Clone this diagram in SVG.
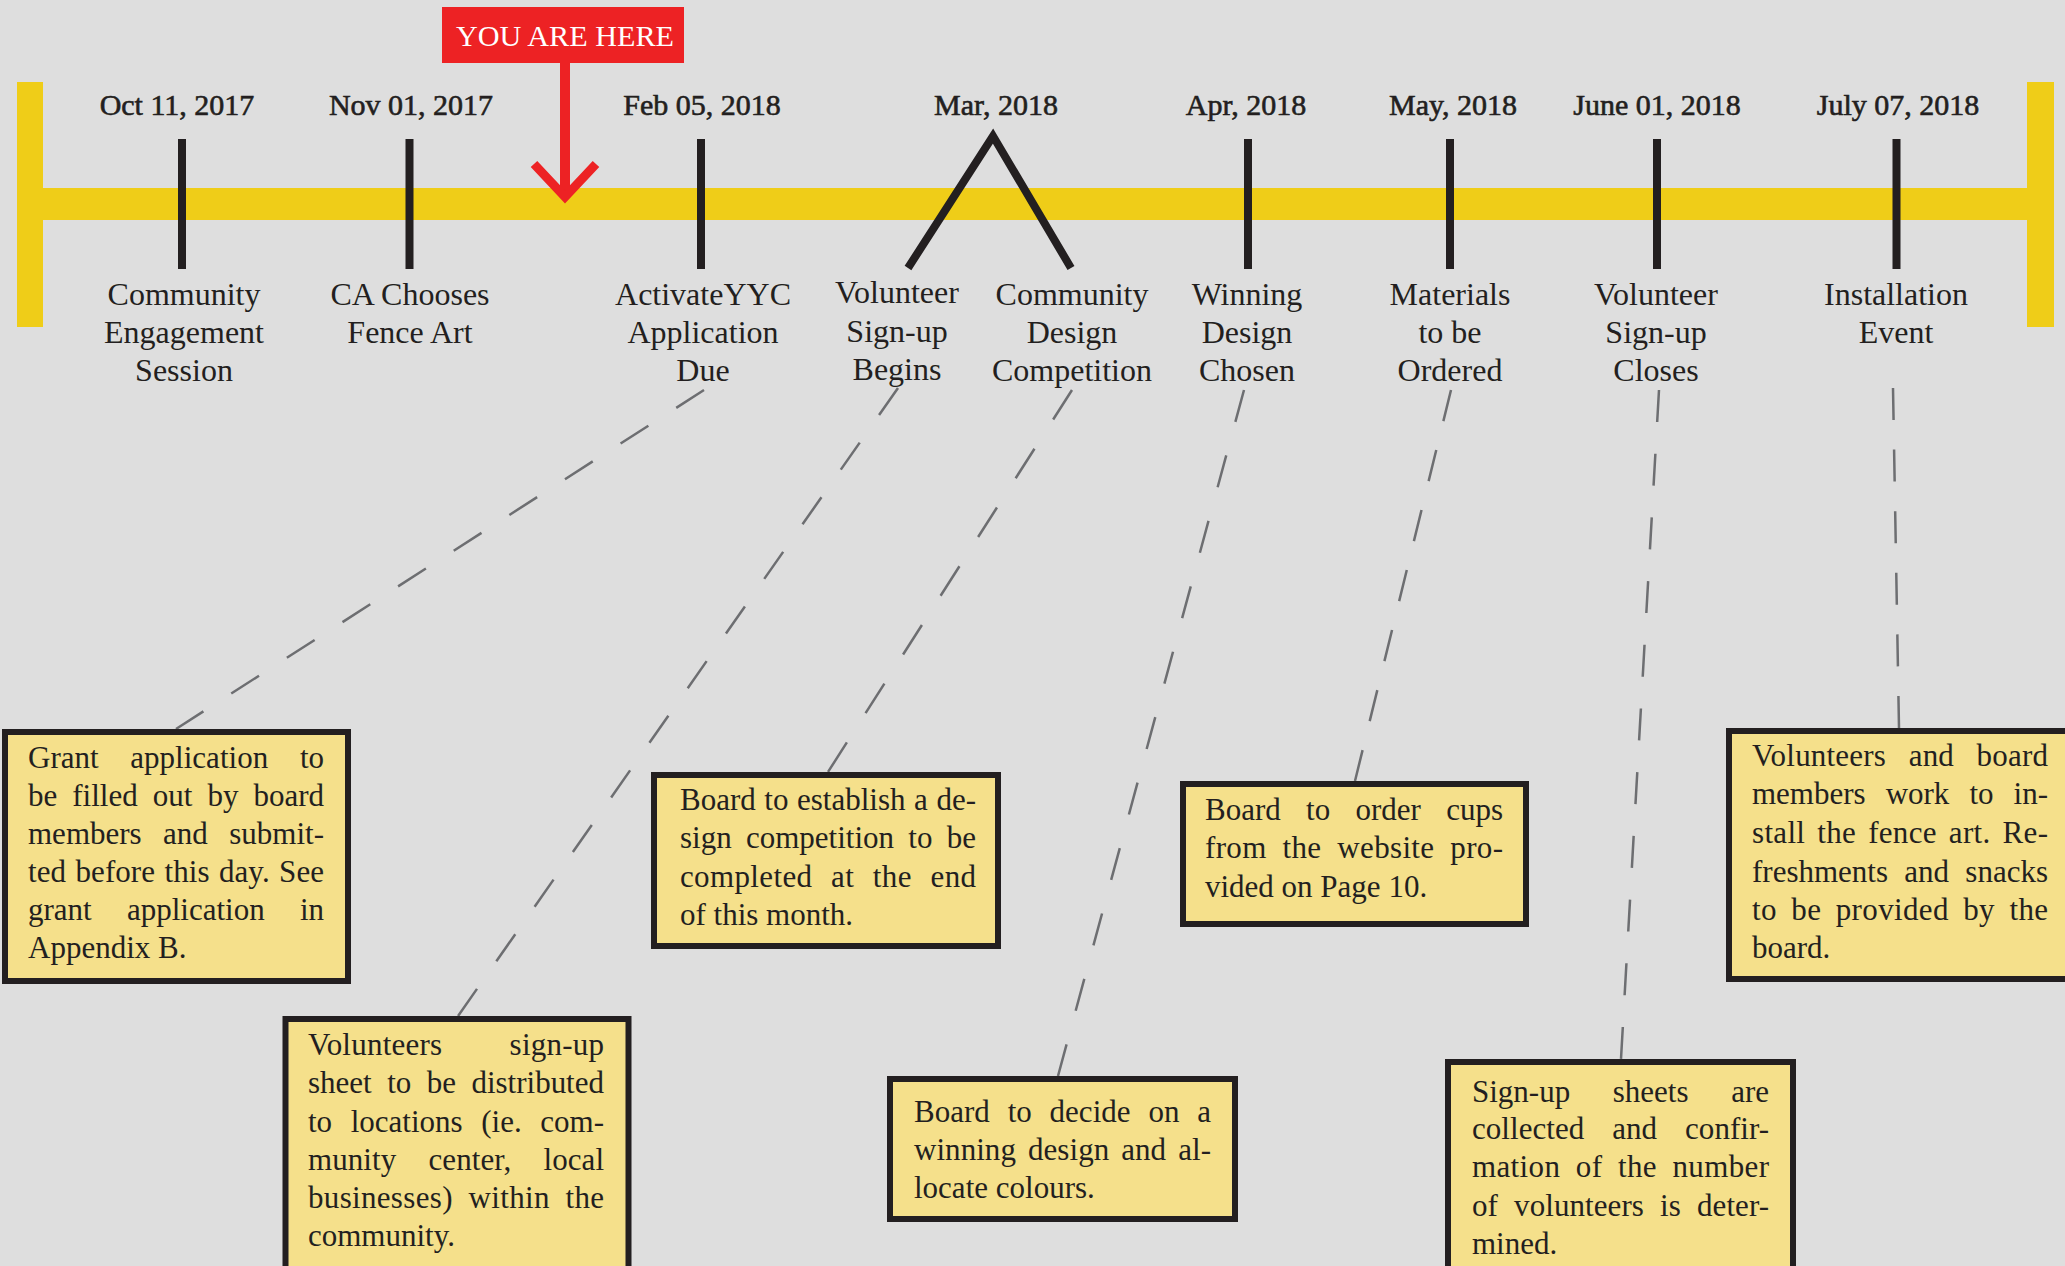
<svg xmlns="http://www.w3.org/2000/svg" width="2065" height="1266" viewBox="0 0 2065 1266">
<defs>
<style>
.bg{fill:#dedede}
.bar{fill:#efcd18}
.tick{stroke:#231f20;stroke-width:8;fill:none}
.date{font-family:"Liberation Serif",serif;font-size:30px;fill:#231f20;stroke:#231f20;stroke-width:0.6;text-anchor:middle}
.lbl{font-family:"Liberation Serif",serif;font-size:32px;fill:#231f20;text-anchor:middle}
.box{fill:#f5e08b;stroke:#231f20;stroke-width:6}
.bt{font-family:"Liberation Serif",serif;font-size:31px;fill:#231f20}
.conn{stroke:#6d6e71;stroke-width:2.5;fill:none}
.here{font-family:"Liberation Serif",serif;font-size:30px;fill:#ffffff;text-anchor:middle}
</style>
</defs>
<rect class="bg" x="0" y="0" width="2065" height="1266"/>

<g id="timeline">
<rect class="bar" x="43" y="188" width="1984" height="32"/>
<rect class="bar" x="17" y="82" width="26" height="245"/>
<rect class="bar" x="2027" y="82" width="27" height="245"/>
</g>

<g id="connectors">
<line class="conn" x1="704" y1="390" x2="176" y2="729" stroke-dasharray="33 33.1"/>
<line class="conn" x1="898" y1="388" x2="458" y2="1016" stroke-dasharray="33 33.7"/>
<line class="conn" x1="1072" y1="390" x2="828" y2="772" stroke-dasharray="35 34.7"/>
<line class="conn" x1="1244" y1="390" x2="1058" y2="1076" stroke-dasharray="33 34.8"/>
<line class="conn" x1="1451" y1="390" x2="1355" y2="781" stroke-dasharray="32 29.8"/>
<line class="conn" x1="1659" y1="390" x2="1621" y2="1059" stroke-dasharray="32 31.8"/>
<line class="conn" x1="1893" y1="388" x2="1899" y2="728" stroke-dasharray="32 29.6"/>
</g>

<g id="you-are-here">
<rect x="442" y="7" width="242" height="56" fill="#ed2224"/>
<text class="here" x="565" y="46" textLength="218" lengthAdjust="spacingAndGlyphs">YOU ARE HERE</text>
<line x1="565" y1="63" x2="565" y2="196" stroke="#ed2224" stroke-width="10"/>
<polyline points="534,164 565,197 596,164" fill="none" stroke="#ed2224" stroke-width="9" stroke-miterlimit="10"/>
</g>

<g id="m-oct">
<line class="tick" x1="182" y1="139" x2="182" y2="269"/>
<text class="date" x="177" y="115">Oct 11, 2017</text>
<text class="lbl" x="184" y="305">Community</text>
<text class="lbl" x="184" y="343">Engagement</text>
<text class="lbl" x="184" y="381">Session</text>
</g>
<g id="m-nov">
<line class="tick" x1="409.5" y1="139" x2="409.5" y2="269"/>
<text class="date" x="411" y="115">Nov 01, 2017</text>
<text class="lbl" x="410" y="305">CA Chooses</text>
<text class="lbl" x="410" y="343">Fence Art</text>
</g>
<g id="m-feb">
<line class="tick" x1="701" y1="139" x2="701" y2="269"/>
<text class="date" x="702" y="115">Feb 05, 2018</text>
<text class="lbl" x="703" y="305">ActivateYYC</text>
<text class="lbl" x="703" y="343">Application</text>
<text class="lbl" x="703" y="381">Due</text>
</g>
<g id="m-mar">
<polyline points="908,268 993,136 1071,268" fill="none" stroke="#231f20" stroke-width="8" stroke-miterlimit="10"/>
<text class="date" x="996" y="115">Mar, 2018</text>
<text class="lbl" x="897" y="303">Volunteer</text>
<text class="lbl" x="897" y="342">Sign-up</text>
<text class="lbl" x="897" y="380">Begins</text>
<text class="lbl" x="1072" y="305">Community</text>
<text class="lbl" x="1072" y="343">Design</text>
<text class="lbl" x="1072" y="381">Competition</text>
</g>
<g id="m-apr">
<line class="tick" x1="1248" y1="139" x2="1248" y2="269"/>
<text class="date" x="1246" y="115">Apr, 2018</text>
<text class="lbl" x="1247" y="305">Winning</text>
<text class="lbl" x="1247" y="343">Design</text>
<text class="lbl" x="1247" y="381">Chosen</text>
</g>
<g id="m-may">
<line class="tick" x1="1450" y1="139" x2="1450" y2="269"/>
<text class="date" x="1453" y="115">May, 2018</text>
<text class="lbl" x="1450" y="305">Materials</text>
<text class="lbl" x="1450" y="343">to be</text>
<text class="lbl" x="1450" y="381">Ordered</text>
</g>
<g id="m-jun">
<line class="tick" x1="1657" y1="139" x2="1657" y2="269"/>
<text class="date" x="1657" y="115">June 01, 2018</text>
<text class="lbl" x="1656" y="305">Volunteer</text>
<text class="lbl" x="1656" y="343">Sign-up</text>
<text class="lbl" x="1656" y="381">Closes</text>
</g>
<g id="m-jul">
<line class="tick" x1="1896.5" y1="139" x2="1896.5" y2="269"/>
<text class="date" x="1898" y="115">July 07, 2018</text>
<text class="lbl" x="1896" y="305">Installation</text>
<text class="lbl" x="1896" y="343">Event</text>
</g>

<g id="box-grant">
<rect class="box" x="5" y="732" width="343" height="249"/>
<text class="bt" x="28" y="768" word-spacing="24" textLength="296" lengthAdjust="spacing">Grant application to</text>
<text class="bt" x="28" y="806" word-spacing="7.3" textLength="296" lengthAdjust="spacing">be filled out by board</text>
<text class="bt" x="28" y="844" word-spacing="13.7" textLength="296" lengthAdjust="spacing">members and submit-</text>
<text class="bt" x="28" y="882" word-spacing="1.5" textLength="296" lengthAdjust="spacing">ted before this day. See</text>
<text class="bt" x="28" y="920" word-spacing="27.5" textLength="296" lengthAdjust="spacing">grant application in</text>
<text class="bt" x="28" y="958">Appendix B.</text>
</g>

<g id="box-signup-sheet">
<rect class="box" x="285.5" y="1019" width="343" height="262"/>
<text class="bt" x="308" y="1055" word-spacing="59.3" textLength="296" lengthAdjust="spacing">Volunteers sign-up</text>
<text class="bt" x="308" y="1093" word-spacing="7.7" textLength="296" lengthAdjust="spacing">sheet to be distributed</text>
<text class="bt" x="308" y="1132" word-spacing="10.9" textLength="296" lengthAdjust="spacing">to locations (ie. com-</text>
<text class="bt" x="308" y="1170" word-spacing="24.5" textLength="296" lengthAdjust="spacing">munity center, local</text>
<text class="bt" x="308" y="1208" word-spacing="7.7" textLength="296" lengthAdjust="spacing">businesses) within the</text>
<text class="bt" x="308" y="1246">community.</text>
</g>

<g id="box-competition">
<rect class="box" x="654" y="775" width="344" height="171"/>
<text class="bt" x="680" y="810" word-spacing="0.8" textLength="296" lengthAdjust="spacing">Board to establish a de-</text>
<text class="bt" x="680" y="848" word-spacing="6.5" textLength="296" lengthAdjust="spacing">sign competition to be</text>
<text class="bt" x="680" y="887" word-spacing="10.6" textLength="296" lengthAdjust="spacing">completed at the end</text>
<text class="bt" x="680" y="925">of this month.</text>
</g>

<g id="box-order">
<rect class="box" x="1183" y="784" width="343" height="140"/>
<text class="bt" x="1205" y="820" word-spacing="17.6" textLength="298" lengthAdjust="spacing">Board to order cups</text>
<text class="bt" x="1205" y="858" word-spacing="7.8" textLength="298" lengthAdjust="spacing">from the website pro-</text>
<text class="bt" x="1205" y="897">vided on Page 10.</text>
</g>

<g id="box-install">
<rect class="box" x="1729" y="731" width="345" height="248"/>
<text class="bt" x="1752" y="766" word-spacing="14.6" textLength="296" lengthAdjust="spacing">Volunteers and board</text>
<text class="bt" x="1752" y="804" word-spacing="12.3" textLength="296" lengthAdjust="spacing">members work to in-</text>
<text class="bt" x="1752" y="843" word-spacing="4" textLength="296" lengthAdjust="spacing">stall the fence art. Re-</text>
<text class="bt" x="1752" y="882" word-spacing="8.5" textLength="296" lengthAdjust="spacing">freshments and snacks</text>
<text class="bt" x="1752" y="920" word-spacing="6.4" textLength="296" lengthAdjust="spacing">to be provided by the</text>
<text class="bt" x="1752" y="958">board.</text>
</g>

<g id="box-decide">
<rect class="box" x="890" y="1079" width="345" height="140"/>
<text class="bt" x="914" y="1122" word-spacing="10.1" textLength="297" lengthAdjust="spacing">Board to decide on a</text>
<text class="bt" x="914" y="1160" word-spacing="4.25" textLength="297" lengthAdjust="spacing">winning design and al-</text>
<text class="bt" x="914" y="1198">locate colours.</text>
</g>

<g id="box-collected">
<rect class="box" x="1448" y="1062" width="345" height="230"/>
<text class="bt" x="1472" y="1102" word-spacing="34.9" textLength="297" lengthAdjust="spacing">Sign-up sheets are</text>
<text class="bt" x="1472" y="1139" word-spacing="20.2" textLength="297" lengthAdjust="spacing">collected and confir-</text>
<text class="bt" x="1472" y="1177" word-spacing="7.4" textLength="297" lengthAdjust="spacing">mation of the number</text>
<text class="bt" x="1472" y="1216" word-spacing="8.3" textLength="297" lengthAdjust="spacing">of volunteers is deter-</text>
<text class="bt" x="1472" y="1254">mined.</text>
</g>
</svg>
